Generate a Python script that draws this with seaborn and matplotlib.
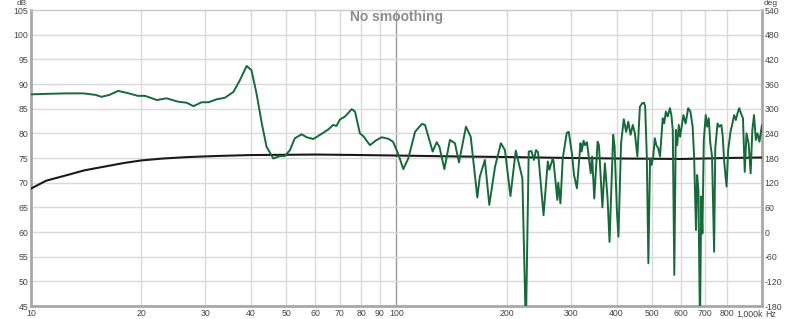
import numpy as np
import pandas as pd
import matplotlib
matplotlib.use("Agg")
import matplotlib.pyplot as plt
import seaborn as sns
from matplotlib.transforms import ScaledTranslation

# ---- data ----
spl_freq = [10, 11, 12.5, 13.9, 15.0, 15.6, 16.4, 17.3, 18.3, 19.6, 20.5, 22.1, 23.5, 25.3, 26.7, 27.8,
            29.3, 30.6, 32.2, 33.9, 35.8, 37.3, 38.9, 40.1, 41.4, 42.8, 44.1, 46.0, 48.0, 49.5, 51.1,
            52.7, 55.0, 56.8, 59.2, 62.4, 65.1, 67.1, 68.5, 70.0, 72.3, 75.4, 77.0, 79.4, 81.1, 84.6,
            88.0, 91.1, 95.0, 97.8, 101, 104.4, 107.7, 112.4, 117.3, 119.7, 125.6, 128.8, 131, 135.2,
            140, 144.5, 148.2, 154.9, 159.6, 166.4, 169, 174.5, 179.4, 186, 193, 198, 205, 212, 217.8,
            221, 225.9, 230, 234, 237.7, 240.8, 244, 252.5, 259.4, 262, 267.5, 269, 275.4, 277, 280.9,
            285, 292.3, 296, 302, 306, 311.6, 318.7, 321, 325, 328, 332, 340, 343, 347.6, 355, 358,
            365.8, 371.7, 378, 382.7, 391.6, 395, 401, 404.8, 411.5, 418.6, 425, 430.7, 437, 443, 449,
            456, 463.4, 470, 475.6, 479, 484, 488.8, 494, 498.7, 504, 509, 514, 520, 526, 535, 540,
            545.7, 552, 559.8, 565, 570, 575.5, 581, 586, 592, 597, 609.6, 618, 628, 637, 646, 652,
            659.7, 664.5, 670, 676.6, 682, 687, 693, 701.6, 708, 715, 722, 730, 739.6, 745, 755.6,
            764, 774, 781, 788, 800, 808, 820, 830, 839, 848, 857, 866, 876, 887, 897, 907, 919, 931,
            941, 951, 962, 972, 984, 1000]
spl_db = [87.9, 88.0, 88.1, 88.1, 87.8, 87.4, 87.8, 88.6, 88.2, 87.6, 87.6, 86.75, 87.1, 86.4, 86.2, 85.5,
          86.3, 86.3, 86.9, 87.2, 88.4, 90.8, 93.65, 92.8, 88.1, 82.0, 77.3, 74.9, 75.4, 75.4, 76.6,
          79.0, 79.8, 79.2, 78.85, 79.9, 80.8, 81.7, 81.5, 82.8, 83.4, 84.9, 84.4, 80.0, 79.45, 77.6,
          78.6, 79.2, 78.9, 78.3, 75.9, 72.75, 74.9, 80.3, 81.9, 81.7, 76.3, 78.2, 77.3, 72.75,
          78.65, 78.0, 74.1, 81.35, 79.3, 67.0, 71.2, 74.6, 65.5, 73.2, 78.0, 76.6, 67.3, 76.5, 72.9,
          70.9, 40.0, 76.3, 76.4, 74.6, 76.6, 76.15, 63.4, 74.3, 72.6, 74.9, 74.3, 66.5, 70.0, 65.8,
          74.9, 80.1, 80.3, 75.9, 71.55, 68.85, 78.0, 76.3, 78.5, 77.6, 78.2, 71.9, 75.3, 66.8, 78.3, 77.6,
          65.0, 73.9, 66.8, 58.0, 79.7, 77.4, 64.1, 59.05, 78.0, 82.85, 80.3, 82.35, 79.7, 81.7, 80.0,
          75.3, 85.4, 86.1, 86.2, 85.4, 75.3, 53.65, 74.9, 73.6, 75.3, 79.0, 77.6, 77.0, 75.3, 83.05, 82.0,
          84.4, 83.4, 85.1, 83.7, 80.7, 51.3, 80.7, 77.6, 81.7, 79.3, 83.7, 82.0, 85.1, 84.4, 81.35, 75.3,
          60.4, 71.55, 68.5, 40.0, 67.2, 59.7, 78.6, 83.7, 81.35, 83.05, 78.0, 75.3, 56.0, 77.0, 82.0,
          81.35, 81.7, 79.3, 74.25, 69.2, 76.6, 80.3, 82.0, 83.7, 82.7, 84.05, 85.1, 84.05, 83.05, 72.2,
          80.0, 78.0, 71.9, 80.7, 83.7, 78.65, 80.0, 78.3, 81.7]

ref_freq = [10, 11, 12.5, 14, 16, 18, 20, 23, 27, 32, 40, 50, 60, 80, 100, 150, 200, 300, 400,
            500, 600, 700, 800, 1000]
ref_db = [68.8, 70.4, 71.5, 72.5, 73.3, 74.0, 74.5, 74.9, 75.2, 75.4, 75.6, 75.65, 75.7, 75.6, 75.5,
          75.3, 75.2, 75.0, 74.9, 74.85, 74.8, 74.9, 75.0, 75.1]

x_ticks = [10, 20, 30, 40, 50, 60, 70, 80, 90, 100, 200, 300, 400, 500, 600, 700, 800, 1000]
x_labels = ["10", "20", "30", "40", "50", "60", "70", "80", "90", "100", "200", "300", "400",
            "500", "600", "700", "800", "1,000k"]
db_ticks = [45, 50, 55, 60, 65, 70, 75, 80, 85, 90, 95, 100, 105]
deg_ticks = [-180, -120, -60, 0, 60, 120, 180, 240, 300, 360, 420, 480, 540]
title = "No smoothing"

# ---- plot ----
sns.set_style("white")
plt.rcParams['font.family'] = ['Liberation Sans', 'DejaVu Sans']

W, H = 800, 319
fig = plt.figure(figsize=(W / 100, H / 100), dpi=100)
L, R, T, B = 31, 762, 10, 306
ax = fig.add_axes([L / W, (H - B) / H, (R - L) / W, (B - T) / H])

df_spl = pd.DataFrame({"freq": spl_freq, "db": spl_db})
df_ref = pd.DataFrame({"freq": ref_freq, "db": ref_db})

ax.set_xscale("log")
ax.set_xlim(10, 1000)
ax.set_ylim(45, 105)

grid_c = "#d9d9d9"
for xv in x_ticks[1:-1]:
    ax.axvline(xv, color="#9a9a9a" if xv == 100 else grid_c, lw=1.0, zorder=0)
for yv in db_ticks[1:-1]:
    ax.axhline(yv, color=grid_c, lw=1.0, zorder=0)

sns.lineplot(data=df_ref, x="freq", y="db", ax=ax, color="#1a1a1a", lw=1.5, zorder=3,
             estimator=None, sort=False)
sns.lineplot(data=df_spl, x="freq", y="db", ax=ax, color="#17693a", lw=1.4, zorder=4,
             estimator=None, sort=False)

fs = 6.3
ax.set_xlabel("")
ax.set_ylabel("")
ax.set_xticks(x_ticks)
ax.set_xticklabels(x_labels)
ax.xaxis.set_minor_locator(matplotlib.ticker.NullLocator())
ax.set_yticks(db_ticks)
ax.set_yticklabels([str(v) for v in db_ticks])
ax.tick_params(axis="both", length=0, labelsize=fs, colors="#444444", pad=2)
ax.tick_params(axis="x", pad=2.5)
last = ax.get_xticklabels()[-1]
last.set_horizontalalignment("right")
last.set_transform(last.get_transform() + ScaledTranslation(1 / 100, 0, fig.dpi_scale_trans))

for s in ["left", "bottom", "right"]:
    ax.spines[s].set_color("#a8a8a8")
    ax.spines[s].set_linewidth(2.0)
ax.spines["top"].set_color("#c8c8c8")
ax.spines["top"].set_linewidth(1.0)

ax2 = ax.twinx()
ax2.set_ylim(-180, 540)
ax2.set_yticks(deg_ticks)
ax2.set_yticklabels([str(v) for v in deg_ticks])
ax2.tick_params(axis="y", length=0, labelsize=fs, colors="#444444", pad=2)
for s in ax2.spines.values():
    s.set_visible(False)
ax2.grid(False)

fig.text(22 / W, (H - 3.5) / H, "dB", ha="center", va="center", fontsize=6, color="#444444")
fig.text(771 / W, (H - 3.5) / H, "deg", ha="center", va="center", fontsize=6, color="#444444")
fig.text(765 / W, (H - 314.5) / H, "Hz", ha="left", va="center", fontsize=fs, color="#444444")
fig.text((L + R) / 2 / W, (H - 17) / H, title, ha="center", va="center", fontsize=10,
         fontweight="bold", color="#8c8c8c")

fig.savefig("out.png", dpi=100)
